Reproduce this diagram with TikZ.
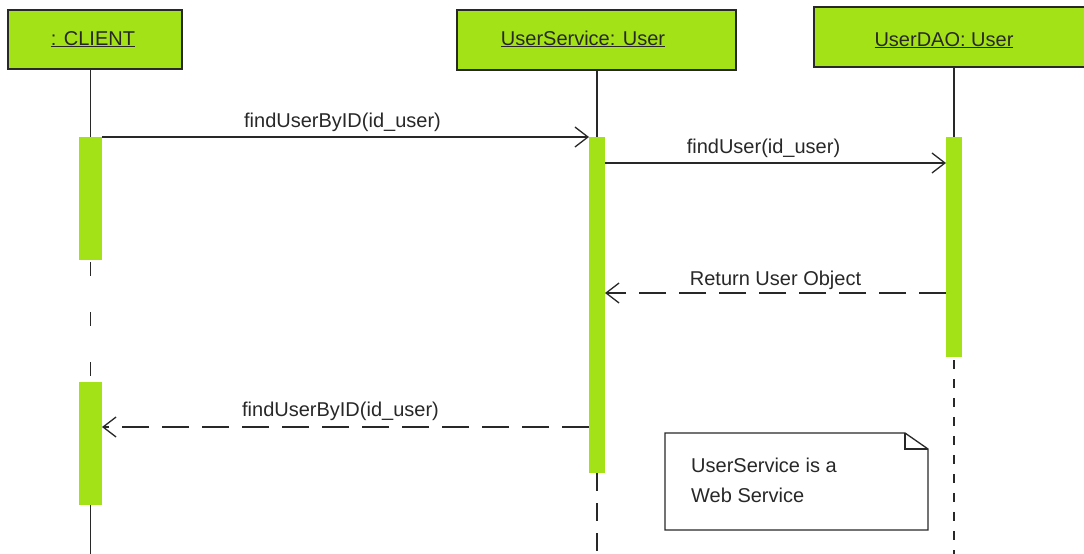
\documentclass[tikz,border=0pt]{standalone}
\usepackage{fontspec}
\setmainfont{Liberation Sans}
\usetikzlibrary{arrows.meta}
\definecolor{umlgreen}{RGB}{164,226,24}
\definecolor{ink}{RGB}{40,40,40}
\begin{document}
\begin{tikzpicture}[x=1pt,y=-1pt,
  font=\fontsize{20}{24}\selectfont, text=ink,
  objbox/.style={draw=ink, fill=umlgreen, line width=1.6pt, inner sep=0pt, outer sep=0pt, anchor=north west},
  actbar/.style={fill=umlgreen, inner sep=0pt, outer sep=0pt, anchor=north west, minimum width=16pt},
  lifeline/.style={draw=ink, line width=1.4pt},
  lbl/.style={anchor=base, inner sep=0pt},
  msg/.style={draw=ink, line width=1.3pt, -{Straight Barb[length=13pt,width=20pt,line width=1.3pt]}},
  retmsg/.style={msg, dash pattern=on 27pt off 13pt}]
\useasboundingbox[fill=white] (0,0) rectangle (1084,554);

% object boxes
\node[objbox, minimum width=174pt, minimum height=59pt] (client) at (8,10) {};
\node[objbox, minimum width=279pt, minimum height=60pt] (svc) at (457,10) {};
\node[objbox, minimum width=272pt, minimum height=60pt] (dao) at (814,7) {};
\node[lbl] (clientlbl) at (93,45) {\underline{: CLIENT}};
\node[lbl] (svclbl) at (583,45) {\underline{UserService: User}};
\node[lbl] (daolbl) at (944,46) {\underline{UserDAO: User}};

% activation bars
\node[actbar, minimum width=23pt, minimum height=123pt] (cbar1) at (79,137) {};
\node[actbar, minimum width=23pt, minimum height=123pt] (cbar2) at (79,382) {};
\node[actbar, minimum height=336pt] (sbar) at (589,137) {};
\node[actbar, minimum height=220pt] (dbar) at (946,137) {};

\coordinate (bottom) at (0,554);
\coordinate (y2) at (0,163);
\coordinate (y3) at (0,293);
\coordinate (y4) at (0,427);

% lifelines
\draw[lifeline] (cbar1.north |- client.south) -- (cbar1.north);
\draw[lifeline, dash pattern=on 14pt off 36pt, dash phase=-2pt] (cbar1.south) -- (cbar2.north);
\draw[lifeline] (cbar2.south) -- (cbar2.south |- bottom);
\draw[lifeline] (sbar.north |- svc.south) -- (sbar.north);
\draw[lifeline, dash pattern=on 18pt off 12pt] (sbar.south) -- (sbar.south |- bottom);
\draw[lifeline] (dbar.north |- dao.south) -- (dbar.north);
\draw[lifeline, line width=1.2pt, dash pattern=on 9pt off 10pt, dash phase=-3pt] (dbar.south) -- (dbar.south |- bottom);

% messages
\draw[msg] (cbar1.north east) -- (sbar.north west)
  node[lbl, midway, xshift=-3pt, yshift=10pt] (m1) {findUserByID(id\_user)};
\draw[msg] (sbar.east |- y2) -- (dbar.west |- y2)
  node[lbl, midway, xshift=-12pt, yshift=10pt] (m2) {findUser(id\_user)};
\draw[retmsg] (dbar.west |- y3) -- (sbar.east |- y3)
  node[lbl, midway, yshift=8pt] (m3) {Return User Object};
\draw[retmsg] (sbar.west |- y4) -- (cbar2.east |- y4)
  node[lbl, midway, xshift=-5pt, yshift=11pt] (m4) {findUserByID(id\_user)};

% note
\node[inner sep=0pt, outer sep=0pt, minimum width=263pt, minimum height=97pt, anchor=north west] (note) at (665,433) {};
\draw[draw=ink, line width=1.3pt, line join=miter]
  (note.north west) -- ([xshift=-23pt]note.north east) -- ([yshift=-16pt]note.north east)
  -- (note.south east) -- (note.south west) -- cycle;
\draw[draw=ink, line width=1.1pt] ([xshift=-23pt]note.north east) -- ([xshift=-23pt,yshift=-16pt]note.north east) -- ([yshift=-16pt]note.north east);
\node[anchor=base west, inner sep=0pt] (n1) at (691,472) {UserService is a};
\node[anchor=base west, inner sep=0pt] (n2) at (691,502) {Web Service};
\end{tikzpicture}
\end{document}
